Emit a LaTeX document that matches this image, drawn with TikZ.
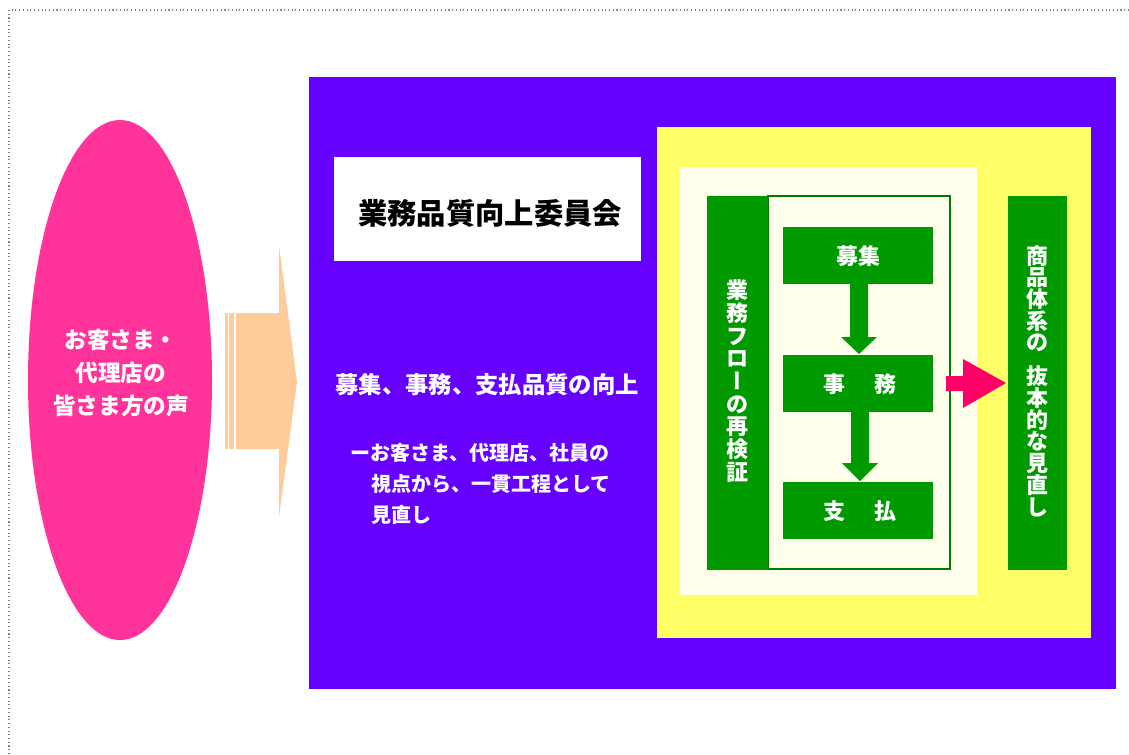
\documentclass[tikz,border=0pt]{standalone}
\usepackage{fontspec}
\setmainfont{Noto Sans CJK JP}
\definecolor{purp}{HTML}{6600FF}
\definecolor{ellpink}{HTML}{FF3399}
\definecolor{peach}{HTML}{FFCC99}
\definecolor{yel}{HTML}{FFFF66}
\definecolor{ivory}{HTML}{FFFFEB}
\definecolor{grn}{HTML}{009900}
\definecolor{arrpink}{HTML}{FF0066}
\begin{document}
\begin{tikzpicture}[x=0.75pt,y=-0.75pt,
  wtxt/.style={text=white,font=\bfseries,inner sep=0pt},
  gbox/.style={fill=grn,draw=none},
]
\useasboundingbox (0,0) rectangle (1129,754);
% dotted frame
\draw[gray,dotted,line width=0.8pt] (9,754) -- (9,10) -- (1129,10);
% ellipse
\fill[ellpink] (120,380) ellipse [x radius=92,y radius=260];
\node[wtxt,align=center,font=\bfseries\fontsize{17}{24.75}\selectfont] (voice) at (121,373)
  {お客さま・\\代理店の\\皆さま方の声};
% peach arrow
\fill[peach] (225,313) rectangle (228,449);
\fill[peach] (229,313) rectangle (234,449);
\fill[peach] (236,313) -- (279,313) -- (279,245) -- (297,382) -- (279,517) -- (279,449) -- (236,449) -- cycle;
% purple panel
\fill[purp] (309,77) rectangle (1116,689);
% white title box
\fill[white] (334,157) rectangle (641,261);
\node[inner sep=0pt,font=\bfseries\fontsize{22}{26}\selectfont] (title) at (490,213) {業務品質向上委員会};
\node[wtxt,font=\bfseries\fontsize{17.5}{22}\selectfont] (goal) at (487,385) {募集、事務、支払品質の向上};
\node[wtxt,anchor=west,align=left,font=\bfseries\fontsize{15}{23}\selectfont] (detail) at (350,484)
  {ーお客さま、代理店、社員の\\\hspace*{1.05em}視点から、一貫工程として\\\hspace*{1.05em}見直し};
% yellow and ivory panels
\fill[yel] (657,127) rectangle (1091,638);
\fill[ivory] (680,167) rectangle (977,595);
% flow outline
\draw[grn!80!black,line width=0.8pt,fill=ivory] (768,196) rectangle (950,569);
\fill[grn] (707,196) rectangle (768,570);
\node[wtxt,align=center,font=\bfseries\fontsize{16.5}{17}\selectfont] (flow) at (737.5,381)
  {業\\務\\フ\\ロ\\{\addfontfeature{RawFeature=+vert}ー}\\の\\再\\検\\証};
% green boxes
\fill[grn] (783,227) rectangle (933,284);
\fill[grn] (783,355) rectangle (933,412);
\fill[grn] (783,482) rectangle (933,539);
\node[wtxt,font=\bfseries\fontsize{16.5}{20}\selectfont] (boshu) at (858,256) {募集};
\node[wtxt,font=\bfseries\fontsize{16.5}{20}\selectfont] (jimu) at (860,384) {事\hspace{1.3em}務};
\node[wtxt,font=\bfseries\fontsize{16.5}{20}\selectfont] (shiharai) at (860,511) {支\hspace{1.3em}払};
% down arrows
\fill[grn] (850,284) -- (868,284) -- (868,337) -- (877,337) -- (859,354) -- (841,337) -- (850,337) -- cycle;
\fill[grn] (851,412) -- (869,412) -- (869,463) -- (878,463) -- (860,481) -- (842,463) -- (851,463) -- cycle;
% pink arrow
\fill[arrpink] (946,376) -- (963,376) -- (963,359) -- (1006,383) -- (963,408) -- (963,391) -- (946,391) -- cycle;
% right green bar
\fill[grn] (1008,196) rectangle (1067,570);
\node[wtxt,align=center,font=\bfseries\fontsize{16.5}{16.3}\selectfont] (review) at (1037,381)
  {商\\品\\体\\系\\の\\[0.55em]抜\\本\\的\\な\\見\\直\\し};
\end{tikzpicture}
\end{document}
